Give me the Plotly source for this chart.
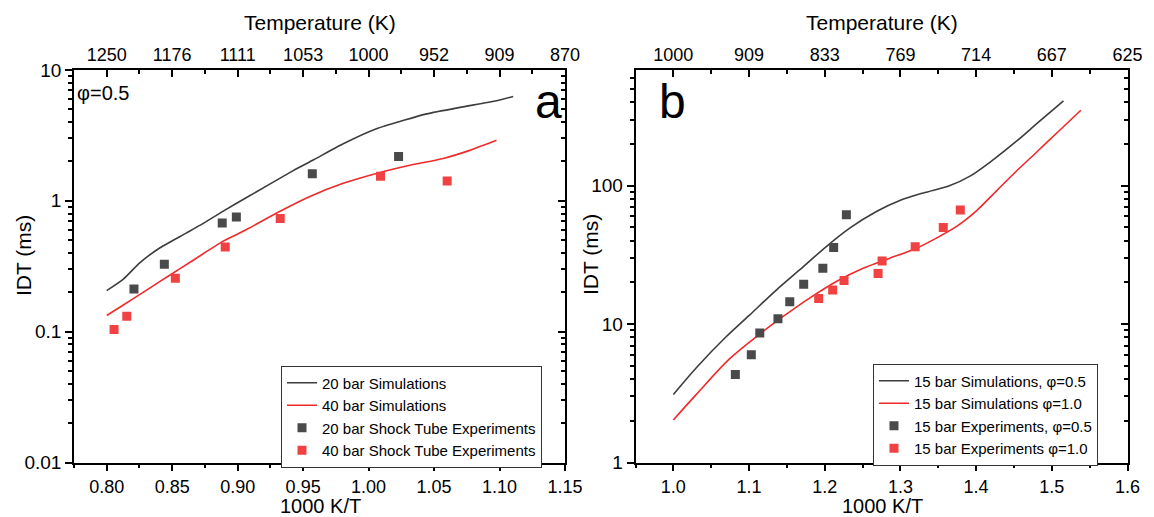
import plotly.graph_objects as go

# ---------------- Panel a data (phi = 0.5) ----------------
a_sim20_x = [0.800, 0.8127, 0.8254, 0.8407, 0.861, 0.8737, 0.889, 0.9068, 0.9424, 0.9577,
             0.9806, 1.006, 1.0264, 1.0443, 1.0697, 1.0977, 1.1104]
a_sim20_y = [0.206, 0.252, 0.337, 0.438, 0.569, 0.672, 0.835, 1.06, 1.70, 2.05,
             2.73, 3.56, 4.11, 4.62, 5.18, 5.82, 6.28]
a_sim40_x = [0.800, 0.8127, 0.8254, 0.8407, 0.856, 0.8737, 0.889, 0.9068, 0.9298, 0.9552,
             0.9806, 1.006, 1.0315, 1.057, 1.0773, 1.0977]
a_sim40_y = [0.133, 0.160, 0.193, 0.242, 0.303, 0.394, 0.492, 0.603, 0.807, 1.08,
             1.36, 1.62, 1.87, 2.11, 2.43, 2.90]
a_exp20_x = [0.8208, 0.844, 0.8882, 0.899, 0.957, 1.0229]
a_exp20_y = [0.212, 0.327, 0.678, 0.752, 1.61, 2.18]
a_exp40_x = [0.8056, 0.8153, 0.8524, 0.8905, 0.9325, 1.0091, 1.060]
a_exp40_y = [0.104, 0.131, 0.256, 0.443, 0.734, 1.54, 1.42]

# ---------------- Panel b data (15 bar) ----------------
b_sim05_x = [1.0, 1.031, 1.0697, 1.1006, 1.136, 1.1668, 1.2021, 1.233, 1.2683, 1.2992,
             1.3301, 1.3654, 1.3919, 1.4228, 1.4537, 1.4801, 1.5154]
b_sim05_y = [3.1, 4.88, 8.09, 11.6, 17.6, 24.6, 36.3, 49.3, 65.0, 78.0,
             88.5, 100, 117, 154, 210, 280, 410]
b_sim10_x = [1.0, 1.031, 1.0741, 1.1094, 1.1447, 1.18, 1.2154, 1.2507, 1.286, 1.3213,
             1.3477, 1.3742, 1.4007, 1.4272, 1.4537, 1.4801, 1.5066, 1.5384]
b_sim10_y = [2.03, 3.13, 5.6, 8.09, 11.3, 15.4, 20.3, 25.3, 29.9, 35.3,
             41.8, 50.7, 66.0, 92.0, 128, 175, 240, 350]
b_exp05_x = [1.0819, 1.103, 1.1142, 1.1382, 1.1538, 1.1722, 1.1975, 1.2118, 1.2286]
b_exp05_y = [4.32, 6.0, 8.6, 10.9, 14.5, 19.4, 25.3, 35.7, 61.7]
b_exp10_x = [1.192, 1.2105, 1.2255, 1.2705, 1.2758, 1.3195, 1.3566, 1.3791]
b_exp10_y = [15.3, 17.6, 20.6, 23.2, 28.5, 36.1, 49.9, 66.7]

# ---------------- Tick labels ----------------
a_bottom_ticks = [0.80, 0.85, 0.90, 0.95, 1.00, 1.05, 1.10, 1.15]
a_top_labels = ["1250", "1176", "1111", "1053", "1000", "952", "909", "870"]
b_bottom_ticks = [1.0, 1.1, 1.2, 1.3, 1.4, 1.5, 1.6]
b_top_labels = ["1000", "909", "833", "769", "714", "667", "625"]
a_y_ticks = [0.01, 0.1, 1, 10]
a_y_labels = ["0.01", "0.1", "1", "10"]
b_y_ticks = [1, 10, 100]
b_y_labels = ["1", "10", "100"]

W, H = 1154, 517
FONT = "Arial, Liberation Sans, sans-serif"
GRAY_LINE = "#3d3d3d"
RED_LINE = "#ee2a2a"
GRAY_MK = "#4a4a4a"
RED_MK = "#f04242"

a_minor_y = [m * d for d in (0.01, 0.1, 1) for m in range(2, 10)]
b_minor_y = [m * d for d in (1, 10, 100) for m in range(2, 10) if m * d < 680]

fig = go.Figure()

def line(x, y, name, color, xa, ya, leg, sm):
    fig.add_trace(go.Scatter(x=x, y=y, mode="lines", name=name, xaxis=xa, yaxis=ya,
                             line=dict(color=color, width=1.6, shape="spline", smoothing=sm),
                             legend=leg))

def pts(x, y, name, color, xa, ya, leg):
    fig.add_trace(go.Scatter(x=x, y=y, mode="markers", name=name, xaxis=xa, yaxis=ya,
                             marker=dict(symbol="square", size=9, color=color, line=dict(width=0)),
                             legend=leg))

line(a_sim20_x, a_sim20_y, "20 bar Simulations", GRAY_LINE, "x", "y", "legend", 0.6)
line(a_sim40_x, a_sim40_y, "40 bar Simulations", RED_LINE, "x", "y", "legend", 0.6)
pts(a_exp20_x, a_exp20_y, "20 bar Shock Tube Experiments", GRAY_MK, "x", "y", "legend")
pts(a_exp40_x, a_exp40_y, "40 bar Shock Tube Experiments", RED_MK, "x", "y", "legend")

line(b_sim05_x, b_sim05_y, "15 bar Simulations, φ=0.5", GRAY_LINE, "x2", "y2", "legend2", 0.9)
line(b_sim10_x, b_sim10_y, "15 bar Simulations φ=1.0", RED_LINE, "x2", "y2", "legend2", 0.9)
pts(b_exp05_x, b_exp05_y, "15 bar Experiments, φ=0.5", GRAY_MK, "x2", "y2", "legend2")
pts(b_exp10_x, b_exp10_y, "15 bar Experiments φ=1.0", RED_MK, "x2", "y2", "legend2")

# dummy traces so the overlay axes (top / right frames) are drawn
for xa, ya in (("x3", "y"), ("x", "y3"), ("x4", "y2"), ("x2", "y4")):
    fig.add_trace(go.Scatter(x=[None], y=[None], xaxis=xa, yaxis=ya, showlegend=False,
                             hoverinfo="skip", mode="markers"))

L_dom = [74 / W, 565 / W]
R_dom = [635.5 / W, 1127.5 / W]
Y_dom = [1 - 462.5 / H, 1 - 70 / H]

common = dict(showline=True, linecolor="black", linewidth=1.5, showgrid=False, zeroline=False,
              tickcolor="black", tickwidth=1.5, ticklen=7, automargin=False)
TF19 = dict(family=FONT, size=19, color="black")
TF18 = dict(family=FONT, size=18, color="black")

def minor_lin(t0, dt, side):
    return dict(tickmode="linear", tick0=t0, dtick=dt, ticks=side, ticklen=4,
                tickcolor="black", tickwidth=1.5, showgrid=False)

def minor_arr(vals, side):
    return dict(tickmode="array", tickvals=vals, ticks=side, ticklen=4,
                tickcolor="black", tickwidth=1.5, showgrid=False)

a_range = [0.775, 1.15]
b_range = [0.95, 1.6]
a_yr = [-2, 1]
b_yr = [0, 2.835]

fig.update_layout(
    width=W, height=H, margin=dict(l=0, r=0, t=0, b=0),
    paper_bgcolor="white", plot_bgcolor="white",
    font=dict(family=FONT, color="black"),
    xaxis=dict(domain=L_dom, anchor="y", range=a_range, tickvals=a_bottom_ticks,
               ticktext=[f"{v:.2f}" for v in a_bottom_ticks], ticks="outside", tickfont=TF18,
               minor=minor_lin(0.775, 0.05, "outside"), **common),
    yaxis=dict(domain=Y_dom, anchor="x", type="log", range=a_yr, tickvals=a_y_ticks,
               ticktext=a_y_labels, ticks="outside", tickfont=TF19,
               minor=minor_arr(a_minor_y, "outside"), **common),
    xaxis3=dict(overlaying="x", anchor="y", side="top", range=a_range, tickvals=a_bottom_ticks,
                ticktext=a_top_labels, ticks="inside", tickfont=TF18,
                minor=minor_lin(0.775, 0.05, "inside"), **common),
    yaxis3=dict(overlaying="y", anchor="x", side="right", type="log", range=a_yr,
                tickvals=a_y_ticks, showticklabels=False, ticks="inside",
                minor=minor_arr(a_minor_y, "inside"), **common),
    xaxis2=dict(domain=R_dom, anchor="y2", range=b_range, tickvals=b_bottom_ticks,
                ticktext=[f"{v:.1f}" for v in b_bottom_ticks], ticks="outside", tickfont=TF18,
                minor=minor_lin(0.95, 0.1, "outside"), **common),
    yaxis2=dict(domain=Y_dom, anchor="x2", type="log", range=b_yr, tickvals=b_y_ticks,
                ticktext=b_y_labels, ticks="outside", tickfont=TF19,
                minor=minor_arr(b_minor_y, "outside"), **common),
    xaxis4=dict(overlaying="x2", anchor="y2", side="top", range=b_range, tickvals=b_bottom_ticks,
                ticktext=b_top_labels, ticks="inside", tickfont=TF18,
                minor=minor_lin(0.95, 0.1, "inside"), **common),
    yaxis4=dict(overlaying="y2", anchor="x2", side="right", type="log", range=b_yr,
                tickvals=b_y_ticks, showticklabels=False, ticks="inside",
                minor=minor_arr(b_minor_y, "inside"), **common),
    legend=dict(x=281 / W, y=1 - 416.5 / H, xanchor="left", yanchor="middle",
                bgcolor="white", bordercolor="#333333", borderwidth=1,
                font=dict(family=FONT, size=15, color="black"), itemwidth=30, tracegroupgap=0),
    legend2=dict(x=873 / W, y=1 - 414.5 / H, xanchor="left", yanchor="middle",
                 bgcolor="white", bordercolor="#333333", borderwidth=1,
                 font=dict(family=FONT, size=15, color="black"), itemwidth=30, tracegroupgap=0),
)

def ann(text, x, y, size, xanchor="center", **kw):
    fig.add_annotation(text=text, x=x / W, y=1 - y / H, xref="paper", yref="paper",
                       xanchor=xanchor, yanchor="middle", showarrow=False,
                       font=dict(family=FONT, size=size, color="black"), **kw)

# axis titles
ann("Temperature (K)", 320, 23, 21)
ann("Temperature (K)", 882, 23, 21)
ann("1000 K/T", 320, 505.5, 20)
ann("1000 K/T", 882, 505.5, 20)
ann("IDT (ms)", 23, 255, 21, textangle=-90)
ann("IDT (ms)", 590, 255, 21, textangle=-90)
# panel labels
ann("a", 548, 101, 48)
ann("b", 657, 101, 48, xanchor="left")
ann("φ=0.5", 75, 93, 20, xanchor="left")

fig.write_html("out.html")
